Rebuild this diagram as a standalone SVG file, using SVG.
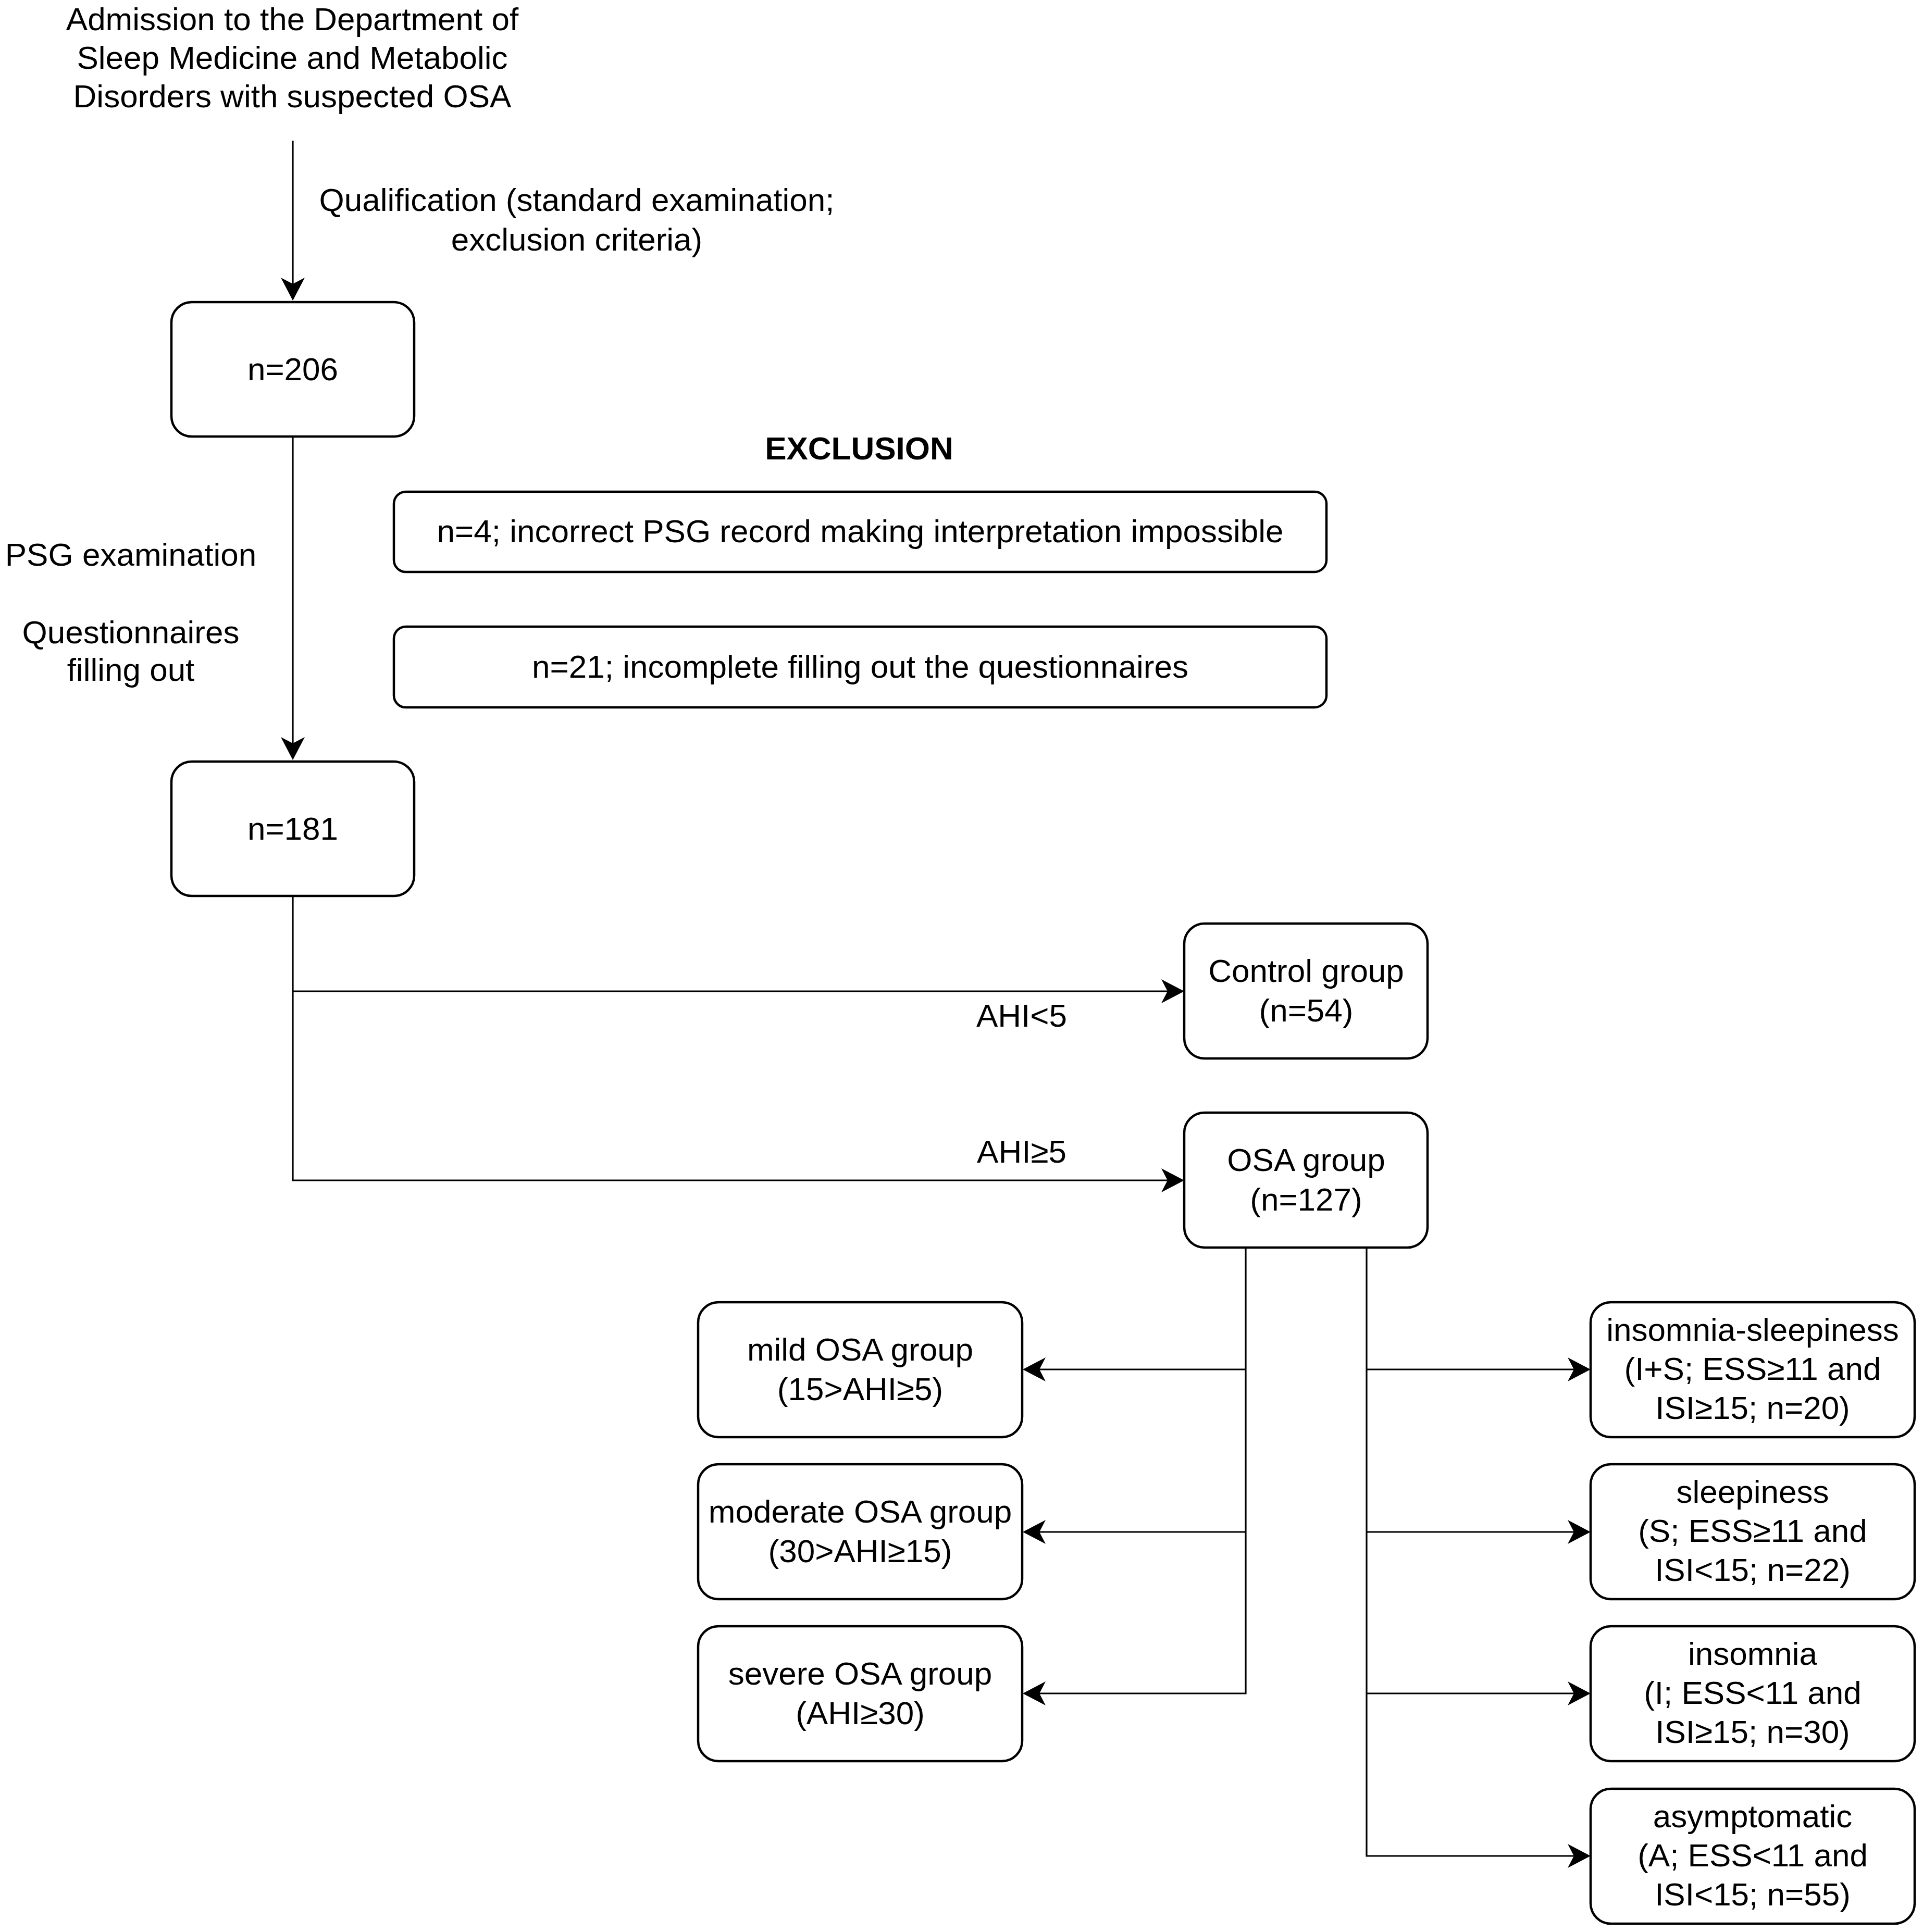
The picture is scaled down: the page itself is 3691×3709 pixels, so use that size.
<svg xmlns="http://www.w3.org/2000/svg" width="3691" height="3709" viewBox="0 0 3691 3709">
<style>
text{font-family:"Liberation Sans",Arial,sans-serif;font-size:62px;fill:#000;text-anchor:middle}
.b{font-weight:bold}
.box{fill:#fff;stroke:#000;stroke-width:4.5}
.c{fill:none;stroke:#000;stroke-width:3.2}
.a{marker-end:url(#arr)}
</style>
<defs>
<marker id="arr" markerUnits="userSpaceOnUse" markerWidth="46" markerHeight="46" viewBox="0 0 44 46" refX="12" refY="23" orient="auto" overflow="visible">
<path d="M44,23 L0,0 L12,23 L0,46 Z" fill="#000"/>
</marker>
</defs>
<rect width="3691" height="3709" fill="#fff"/>
<g id="connectors">
<path class="c a" d="M562,270 V545"/>
<path class="c a" d="M562,838 V1427"/>
<path class="c a" d="M562,1720 V2266 H2241"/>
<path class="c a" d="M562,1903 H2241"/>
<path class="c a" d="M2391,2395 V3251 H1995"/>
<path class="c a" d="M2391,2629 H1995"/>
<path class="c a" d="M2391,2941 H1995"/>
<path class="c a" d="M2623,2395 V3563 H3021"/>
<path class="c a" d="M2623,2629 H3021"/>
<path class="c a" d="M2623,2941 H3021"/>
<path class="c a" d="M2623,3251 H3021"/>
</g>
<g id="labels">
<text x="561" y="58">Admission to the Department of</text>
<text x="561" y="132">Sleep Medicine and Metabolic</text>
<text x="561" y="206">Disorders with suspected OSA</text>
<text x="1107" y="405">Qualification (standard examination;</text>
<text x="1107" y="481">exclusion criteria)</text>
<text x="251" y="1086">PSG examination</text>
<text x="251" y="1235">Questionnaires</text>
<text x="251" y="1307">filling out</text>
<text x="1961" y="1971">AHI&lt;5</text>
<text x="1961" y="2232">AHI≥5</text>
<text class="b" x="1649" y="882">EXCLUSION</text>
</g>
<g id="n206">
<rect class="box" x="329" y="580" width="466" height="258" rx="39"/>
<text x="562" y="730">n=206</text>
</g>
<g id="n181">
<rect class="box" x="329" y="1462" width="466" height="258" rx="39"/>
<text x="562" y="1612">n=181</text>
</g>
<g id="excl1">
<rect class="box" x="756" y="944" width="1790" height="154" rx="23"/>
<text x="1651" y="1041">n=4; incorrect PSG record making interpretation impossible</text>
</g>
<g id="excl2">
<rect class="box" x="756" y="1203" width="1790" height="155" rx="23"/>
<text x="1651" y="1301">n=21; incomplete filling out the questionnaires</text>
</g>
<g id="control">
<rect class="box" x="2273" y="1773" width="467" height="259" rx="39"/>
<text x="2507" y="1885">Control group</text>
<text x="2507" y="1961">(n=54)</text>
</g>
<g id="osa">
<rect class="box" x="2273" y="2136" width="467" height="259" rx="39"/>
<text x="2507" y="2248">OSA group</text>
<text x="2507" y="2324">(n=127)</text>
</g>
<g id="mild">
<rect class="box" x="1340" y="2500" width="622" height="259" rx="39"/>
<text x="1651" y="2612">mild OSA group</text>
<text x="1651" y="2688">(15&gt;AHI≥5)</text>
</g>
<g id="moderate">
<rect class="box" x="1340" y="2811" width="622" height="259" rx="39"/>
<text x="1651" y="2923">moderate OSA group</text>
<text x="1651" y="2999">(30&gt;AHI≥15)</text>
</g>
<g id="severe">
<rect class="box" x="1340" y="3122" width="622" height="259" rx="39"/>
<text x="1651" y="3234">severe OSA group</text>
<text x="1651" y="3310">(AHI≥30)</text>
</g>
<g id="is">
<rect class="box" x="3053" y="2500" width="622" height="259" rx="39"/>
<text x="3364" y="2574">insomnia-sleepiness</text>
<text x="3364" y="2649">(I+S; ESS≥11 and</text>
<text x="3364" y="2724">ISI≥15; n=20)</text>
</g>
<g id="s">
<rect class="box" x="3053" y="2811" width="622" height="259" rx="39"/>
<text x="3364" y="2885">sleepiness</text>
<text x="3364" y="2960">(S; ESS≥11 and</text>
<text x="3364" y="3035">ISI&lt;15; n=22)</text>
</g>
<g id="i">
<rect class="box" x="3053" y="3122" width="622" height="259" rx="39"/>
<text x="3364" y="3196">insomnia</text>
<text x="3364" y="3271">(I; ESS&lt;11 and</text>
<text x="3364" y="3346">ISI≥15; n=30)</text>
</g>
<g id="a">
<rect class="box" x="3053" y="3434" width="622" height="259" rx="39"/>
<text x="3364" y="3508">asymptomatic</text>
<text x="3364" y="3583">(A; ESS&lt;11 and</text>
<text x="3364" y="3658">ISI&lt;15; n=55)</text>
</g>
</svg>
